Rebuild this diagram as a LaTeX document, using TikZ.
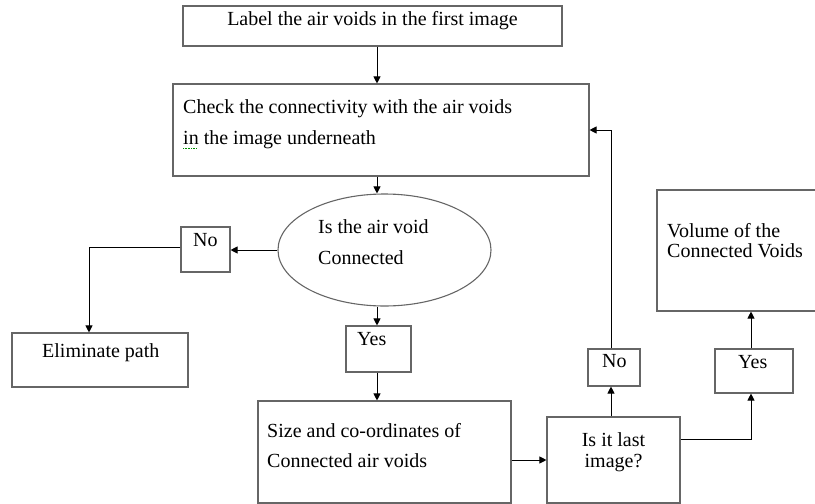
\documentclass[tikz,border=0pt]{standalone}
\usepackage{fontspec}
\setmainfont{Liberation Serif}
\usetikzlibrary{arrows.meta, positioning, shapes.geometric}

\begin{document}
\begin{tikzpicture} [
    x=1pt, y=-1pt,
    box/.style={draw=black!60, line width=1.1pt, rectangle, inner sep=0pt},
    txt/.style={anchor=base west, inner sep=0pt, font=\fontsize{20}{22}\selectfont},
    flow/.style={-{Triangle[length=7pt,width=7pt]}, line width=0.9pt}]

\useasboundingbox (0,0) rectangle (815,504);

% Boxes
\node (label) [box, minimum width=379pt, minimum height=40pt] at (372.5,26) {};
\node (check) [box, minimum width=416pt, minimum height=92pt] at (381,130) {};
\node (ell) [draw=black!60, line width=1.1pt, ellipse, inner sep=0pt,
    minimum width=213pt, minimum height=112pt] at (384.5,250) {};
\node (no1) [box, minimum width=49pt, minimum height=45pt] at (205.5,249.5) {};
\node (elim) [box, minimum width=176pt, minimum height=54pt] at (100,360) {};
\node (yes1) [box, minimum width=65pt, minimum height=46pt] at (378.5,349) {};
\node (size) [box, minimum width=253pt, minimum height=102pt] at (384.5,452) {};
\node (last) [box, minimum width=133pt, minimum height=86pt] at (613.5,460) {};
\node (no2) [box, minimum width=52pt, minimum height=37pt] at (614,367.5) {};
\node (yes2) [box, minimum width=78pt, minimum height=44pt] at (754,371) {};
\node (vol) [box, minimum width=173pt, minimum height=121pt] at (743.5,250.5) {};

% Texts
\node (labeltxt) [txt, anchor=base] at (372.5,25) {Label the air voids in the first image};
\node (checktxt1) [txt] at (183,113) {Check the connectivity with the air voids};
\node (checktxt2) [txt] at (183,144) {in the image underneath};
\node (elltxt1) [txt] at (318,233) {Is the air void};
\node (elltxt2) [txt] at (318,264) {Connected};
\node (no1txt) [txt] at (193,246) {No};
\node (elimtxt) [txt] at (42,357) {Eliminate path};
\node (yes1txt) [txt] at (357,345) {Yes};
\node (sizetxt1) [txt] at (267,437) {Size and co-ordinates of};
\node (sizetxt2) [txt] at (267,467) {Connected air voids};
\node (lasttxt1) [txt, anchor=base] at (613.5,446) {Is it last};
\node (lasttxt2) [txt, anchor=base] at (613.5,467) {image?};
\node (no2txt) [txt] at (602,367) {No};
\node (yes2txt) [txt] at (738,368) {Yes};
\node (voltxt1) [txt] at (667,237) {Volume of the};
\node (voltxt2) [txt] at (667,257) {Connected Voids};

% spelling mark under "in"
\draw [green!55!black, densely dotted, line width=0.6pt] (183,148) -- (197,148);

% Arrow columns
\coordinate (spine) at (377,0);
\coordinate (elimcol) at (89,0);
\coordinate (nocol) at (611,0);
\coordinate (turn) at (751,439);

% Arrows
\draw [flow] (label.south -| spine) -- (check.north -| spine);
\draw [flow] (check.south -| spine) -- (ell.north -| spine);
\draw [flow] (ell.west) -- (no1.east |- ell.west);
\draw [flow] ([yshift=2pt]no1.west) -| (elim.north -| elimcol);
\draw [flow] (ell.south -| spine) -- (yes1.north -| spine);
\draw [flow] (yes1.south -| spine) -- (size.north -| spine);
\draw [flow] (size.east |- last.west) -- (last.west);
\draw [flow] (last.north -| nocol) -- (no2.south -| nocol);
\draw [flow] (no2.north -| nocol) |- (check.east);
\draw [flow] (last.east |- turn) -| (yes2.south -| turn);
\draw [flow] (yes2.north -| turn) -- (vol.south -| turn);
\end{tikzpicture}
\end{document}
